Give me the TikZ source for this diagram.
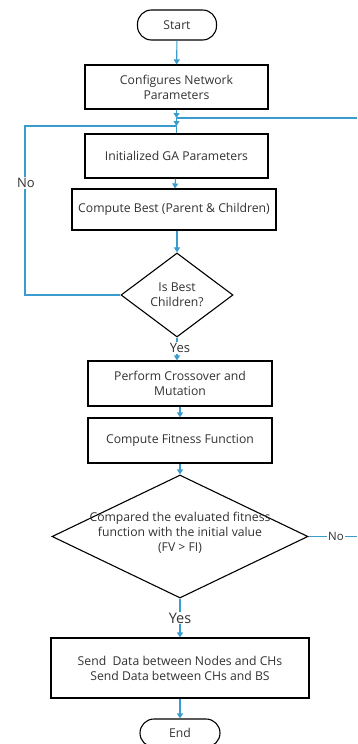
\documentclass[tikz,border=0pt]{standalone}
\usepackage{fontspec}
\setmainfont{Open Sans}
\usetikzlibrary{shapes.geometric,arrows.meta}
\definecolor{conn}{RGB}{58,156,206}
\definecolor{txt}{RGB}{50,50,50}
\tikzset{
  box/.style={draw=black,line width=1.1pt,rectangle,inner sep=0pt,align=center,text=txt,font=\fontsize{12.2}{15}\selectfont},
  term/.style={draw=black,line width=1.1pt,rectangle,rounded corners=14pt,inner sep=0pt,text=txt,font=\fontsize{12.2}{15}\selectfont},
  dec/.style={draw=black,line width=1.1pt,diamond,inner sep=0pt},
  dtext/.style={align=center,text=txt,font=\fontsize{12.2}{15}\selectfont},
  conline/.style={draw=conn,line width=1.1pt},
  arr/.style={conline,-{Triangle[width=6pt,length=5pt]}},
  lbl/.style={fill=white,inner sep=1pt,text=txt,font=\fontsize{11.5}{13}\selectfont},
  ylbl/.style={fill=white,inner sep=1pt,text=txt,font=\fontsize{14.5}{16}\selectfont},
}
\begin{document}
\begin{tikzpicture}[x=1pt,y=-1pt]
\useasboundingbox (0,0) rectangle (357,744);
\node[term,minimum width=79,minimum height=30] (start) at (177,25) {Start};
\node[box,minimum width=183,minimum height=44] (cfg) at (176.5,87) {Configures Network\\Parameters};
\coordinate (m1) at (176.5,118);
\coordinate (m2) at (176.5,126);
\node[box,minimum width=183,minimum height=44] (init) at (176.5,156) {Initialized GA Parameters};
\node[box,minimum width=204,minimum height=41] (best) at (174,209.5) {Compute Best (Parent \& Children)};
\node[dec,minimum width=112,minimum height=84] (d1) at (177,295) {};
\node[dtext] (d1t) at (d1) {Is Best\\Children?};
\node[box,minimum width=184,minimum height=45] (cross) at (180,383.5) {Perform Crossover and\\Mutation};
\node[box,minimum width=184,minimum height=45] (fit) at (180,440.5) {Compute Fitness Function};
\node[dec,minimum width=256,minimum height=123] (d2) at (180,536.5) {};
\node[dtext] (d2t) at (180,533) {Compared the evaluated fitness\\function with the initial value\\(FV > FI)};
\node[box,minimum width=258,minimum height=60] (send) at (180,668) {Send\ \ Data between Nodes and CHs\\Send Data between CHs and BS};
\node[term,minimum width=80,minimum height=28] (end) at (180,733) {End};
\coordinate (l1) at (25,295);
\coordinate (l2) at (25,126);
\coordinate (r1) at (357,536.5);
\coordinate (r2) at (357,118);
% connectors
\draw[arr] (start) -- (cfg);
\draw[arr] (cfg) -- (m1);
\draw[arr] (m1) -- (m2);
\draw[conline] (m2) -- (init);
\draw[arr] (init) -- (best);
\draw[arr] (best.south -| d1) -- (d1);
\draw[conline] (d1.west) -- (l1) -- (l2) -- (m2);
\node[lbl,font=\fontsize{13}{14}\selectfont] (no1) at (26,183) {No};
\draw[arr] (d1.south) -- (d1.south |- cross.north);
\node[lbl,font=\fontsize{13}{14}\selectfont] (yes1) at (180,348) {Yes};
\draw[arr] (cross) -- (fit);
\draw[arr] (fit) -- (d2);
\draw[conline] (d2.east) -- (r1);
\draw[conline] (r2) -- (m1);
\node[lbl] (no2) at (336,536.5) {No};
\draw[arr] (d2) -- (send);
\node[ylbl] (yes2) at (180,618) {Yes};
\draw[arr] (send) -- (end);
\end{tikzpicture}
\end{document}
